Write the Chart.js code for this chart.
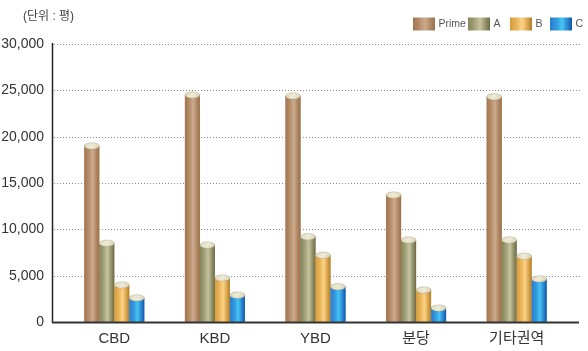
<!DOCTYPE html>
<html>
<head>
<meta charset="utf-8">
<script src="https://cdn.jsdelivr.net/npm/chart.js@4.4.0/dist/chart.umd.min.js"></script>
<style>
  html, body { margin: 0; padding: 0; background: #fff; }
  #wrap { width: 588px; height: 351px; position: relative; }
</style>
</head>
<body>
<div id="wrap"><canvas id="c" width="588" height="351"></canvas></div>
<script>
const categories = ['CBD', 'KBD', 'YBD', '분당', '기타권역'];
const seriesNames = ['Prime', 'A', 'B', 'C'];
const primeValues = [19000, 24500, 24400, 13700, 24300];
const aValues = [8500, 8300, 9200, 8850, 8850];
const bValues = [4000, 4750, 7200, 3450, 7100];
const cValues = [2600, 2900, 3800, 1500, 4650];
const yTicks = [0, 5000, 10000, 15000, 20000, 25000, 30000];
const unitLabel = '(단위 : 평)';

const seriesValues = [primeValues, aValues, bValues, cValues];
const gradStops = [
  [['#a27550', 0], ['#b68e6a', 0.3], ['#ccab8f', 0.55], ['#b08763', 0.8], ['#9a7049', 1]],
  [['#84845a', 0], ['#a3a27a', 0.3], ['#c6c49e', 0.55], ['#92916a', 0.8], ['#6c6b43', 1]],
  [['#d69c3e', 0], ['#eab45a', 0.3], ['#fcd386', 0.55], ['#d9a44c', 0.8], ['#ad7d2b', 1]],
  [['#2a7ccd', 0], ['#3499de', 0.3], ['#46c4f3', 0.55], ['#2a86d0', 0.8], ['#1456a6', 1]]
];
const midColors = ['#b8906c', '#a3a27a', '#eab45a', '#3499de'];
const FONT = '"Liberation Sans", Arial, "Noto Sans CJK KR", sans-serif';

function makeGrad(ctx, x0, x1, stops) {
  const g = ctx.createLinearGradient(x0, 0, x1, 0);
  stops.forEach(s => g.addColorStop(s[1], s[0]));
  return g;
}

const cylinderPlugin = {
  id: 'cylinders',
  beforeDatasetsDraw(chart) {
    const ctx = chart.ctx;
    const ys = chart.scales.y;
    ctx.save();
    ctx.strokeStyle = '#8a8a8a';
    ctx.lineWidth = 1;
    ctx.setLineDash([1, 2]);
    yTicks.forEach(v => {
      if (v === 0) return;
      const py = Math.round(ys.getPixelForValue(v)) + 0.5;
      ctx.beginPath();
      ctx.moveTo(54, py);
      ctx.lineTo(582, py);
      ctx.stroke();
    });
    ctx.restore();
  },
  afterDatasetsDraw(chart) {
    const ctx = chart.ctx;
    const ys = chart.scales.y;
    ctx.save();
    chart.data.datasets.forEach((ds, di) => {
      const meta = chart.getDatasetMeta(di);
      meta.data.forEach(el => {
        const w = el.width;
        const x0 = el.x - w / 2, x1 = el.x + w / 2;
        const top = el.y, base = el.base;
        const ry = 3.2;
        // body
        ctx.fillStyle = makeGrad(ctx, x0, x1, gradStops[di]);
        ctx.beginPath();
        ctx.moveTo(x0, top);
        ctx.lineTo(x0, base - 1);
        ctx.ellipse(el.x, base - 1, w / 2, 1.2, 0, Math.PI, 0, true);
        ctx.lineTo(x1, top);
        ctx.closePath();
        ctx.fill();
        // cap
        const cg = ctx.createLinearGradient(x0, top - ry, x1, top + ry);
        cg.addColorStop(0, '#dcd8bc');
        cg.addColorStop(0.5, '#eeebd6');
        cg.addColorStop(1, '#d6d1b3');
        ctx.fillStyle = cg;
        ctx.beginPath();
        ctx.ellipse(el.x, top, w / 2, ry, 0, 0, Math.PI * 2);
        ctx.fill();
        ctx.strokeStyle = 'rgba(150,140,110,0.6)';
        ctx.lineWidth = 0.6;
        ctx.stroke();
      });
    });
    // axes
    const y0 = ys.getPixelForValue(0);
    const yTop = ys.getPixelForValue(30000);
    ctx.strokeStyle = '#222';
    ctx.lineWidth = 1.5;
    ctx.beginPath();
    ctx.moveTo(52.5, yTop - 1);
    ctx.lineTo(52.5, y0 + 1);
    ctx.stroke();
    ctx.strokeStyle = '#333';
    ctx.lineWidth = 2;
    ctx.beginPath();
    ctx.moveTo(52, y0 + 0.5);
    ctx.lineTo(579, y0 + 0.5);
    ctx.stroke();
    ctx.restore();
  },
  afterDraw(chart) {
    const ctx = chart.ctx;
    ctx.save();
    // unit label
    ctx.fillStyle = '#444';
    ctx.font = '12px ' + FONT;
    ctx.textBaseline = 'middle';
    ctx.textAlign = 'left';
    ctx.fillText(unitLabel, 23, 17);
    // legend
    const lx = [413, 468, 510, 550];
    ctx.font = '10.5px ' + FONT;
    seriesNames.forEach((name, i) => {
      const sx = lx[i], sy = 17.5, sw = 22, sh = 13;
      ctx.fillStyle = makeGrad(ctx, sx, sx + sw, gradStops[i]);
      ctx.fillRect(sx, sy, sw, sh);
      ctx.fillStyle = '#555';
      ctx.fillText(name, sx + sw + 3.5, 24.5);
    });
    ctx.restore();
  }
};

const colors = midColors;
new Chart(document.getElementById('c'), {
  type: 'bar',
  data: {
    labels: categories,
    datasets: seriesNames.map((n, i) => ({
      label: n,
      data: seriesValues[i],
      backgroundColor: colors[i],
      borderWidth: 0,
      categoryPercentage: 0.5964,
      barPercentage: 1.0
    }))
  },
  options: {
    responsive: false,
    animation: false,
    devicePixelRatio: 1,
    layout: { padding: { left: 0, right: 21, top: 44, bottom: 0 } },
    plugins: { legend: { display: false }, title: { display: false }, tooltip: { enabled: false } },
    scales: {
      x: {
        grid: { display: false, drawTicks: false },
        border: { display: false },
        ticks: { color: '#333', font: { family: FONT, size: 15 }, padding: 8, maxRotation: 0 },
        afterFit(s) { s.height = 29; }
      },
      y: {
        min: 0, max: 30000,
        grid: { display: false, drawTicks: false },
        border: { display: false },
        afterBuildTicks(s) { s.ticks = yTicks.map(v => ({ value: v })); },
        ticks: {
          color: '#333', font: { family: FONT, size: 14 }, padding: 20,
          callback: v => Number(v).toLocaleString('en-US')
        },
        afterFit(s) { s.width = 64; }
      }
    }
  },
  plugins: [cylinderPlugin]
});
</script>
</body>
</html>
